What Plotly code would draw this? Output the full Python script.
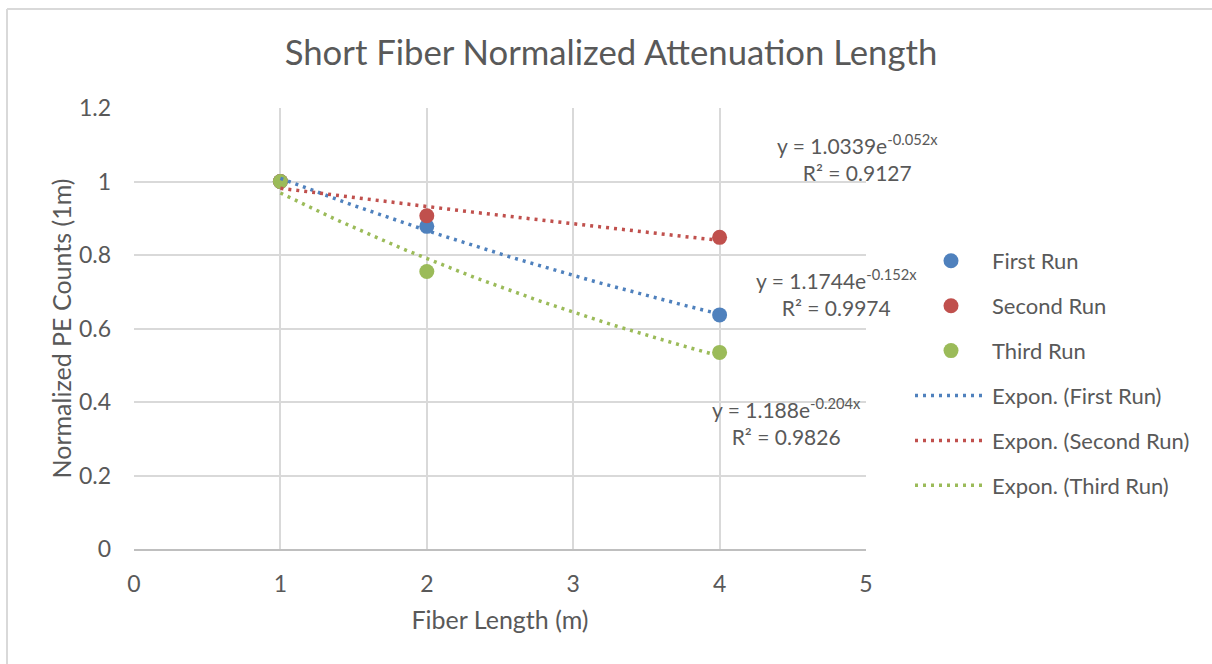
import numpy as np
import plotly.graph_objects as go

# ---- data ----
fiber_length = [1, 2, 4]
first_run = [1.0, 0.878, 0.637]
second_run = [1.0, 0.907, 0.848]
third_run = [1.0, 0.755, 0.535]

series_names = ["First Run", "Second Run", "Third Run"]
series_colors = ["#4F81BD", "#C0504D", "#9BBB59"]

# exponential trendline coefficients displayed on the chart: y = a * e^(b x)
trend_a = [1.1744, 1.0339, 1.188]
trend_b = [-0.152, -0.052, -0.204]
trend_r2 = [0.9974, 0.9127, 0.9826]
trend_a_txt = ["1.1744", "1.0339", "1.188"]
trend_b_txt = ["-0.152", "-0.052", "-0.204"]

FONT = "Lato, 'Open Sans', sans-serif"
TXT = "#595959"

fig = go.Figure()
values = [first_run, second_run, third_run]
for i, (name, col, vals) in enumerate(zip(series_names, series_colors, values)):
    fig.add_trace(go.Scatter(
        x=fiber_length, y=vals, mode="markers", name=name,
        marker=dict(color=col, size=15), legendgroup=f"g{i}", legendrank=i + 1,
    ))

x_fit = np.linspace(min(fiber_length), max(fiber_length), 60)
for i, (name, col) in enumerate(zip(series_names, series_colors)):
    fig.add_trace(go.Scatter(
        x=x_fit, y=trend_a[i] * np.exp(trend_b[i] * x_fit), mode="lines",
        name=f"Expon. ({name})",
        line=dict(color=col, width=3.5, dash="3px,5px"),
        legendgroup=f"t{i}", legendrank=4 + i,
    ))

# equation labels
label_pos = {1: (4.94, 1.064), 0: (4.80, 0.697), 2: (4.46, 0.346)}
for i, (lx, ly) in label_pos.items():
    fig.add_annotation(
        x=lx, y=ly, xref="x", yref="y", showarrow=False,
        text=f"y = {trend_a_txt[i]}e<sup>{trend_b_txt[i]}x</sup><br>R² = {trend_r2[i]}",
        font=dict(family=FONT, size=21, color=TXT), align="center",
    )

# outer chart border (left and top edges visible)
L, R, T, B = 134, 346, 108, 115
W, H = 1212, 664
pw, ph = W - L - R, H - T - B
bx = (7 - L) / pw
by = 1 + (T - 9) / ph
fig.add_shape(type="line", xref="paper", yref="paper",
              x0=bx, x1=bx, y0=-2, y1=by, line=dict(color="#D9D9D9", width=2), layer="below")
fig.add_shape(type="line", xref="paper", yref="paper",
              x0=bx, x1=3, y0=by, y1=by, line=dict(color="#D9D9D9", width=2), layer="below")

fig.update_layout(
    width=W, height=H,
    margin=dict(l=L, r=R, t=T, b=B, autoexpand=False),
    paper_bgcolor="white", plot_bgcolor="white",
    font=dict(family=FONT, color=TXT, size=22),
    title=dict(text="Short Fiber Normalized Attenuation Length",
               x=611 / W, xanchor="center", y=1 - 53 / H, yanchor="middle",
               font=dict(size=34.7, color=TXT, family=FONT)),
    showlegend=True,
    legend=dict(x=(910 - L) / pw, xanchor="left", y=(549 - 240) / ph, yanchor="top",
                font=dict(size=22, color=TXT, family=FONT),
                tracegroupgap=13.3, itemwidth=72, bgcolor="rgba(0,0,0,0)"),
)
fig.update_xaxes(range=[0, 5], dtick=1, tick0=0, showgrid=True, gridcolor="#D9D9D9",
                 gridwidth=1.5, zeroline=False, showline=True, linecolor="#BFBFBF",
                 linewidth=1.5, mirror=False, ticks="", ticklabelstandoff=14,
                 tickfont=dict(size=23),
                 title=dict(text="Fiber Length (m)", font=dict(size=25), standoff=15))
fig.update_yaxes(range=[0, 1.2], dtick=0.2, tick0=0, showgrid=True, gridcolor="#D9D9D9",
                 gridwidth=1.5, zeroline=False, showline=False, ticks="",
                 ticklabelstandoff=22, tickfont=dict(size=23),
                 tickvals=[0, 0.2, 0.4, 0.6, 0.8, 1.0, 1.2],
                 ticktext=["0", "0.2", "0.4", "0.6", "0.8", "1", "1.2"],
                 title=dict(text="Normalized PE Counts (1m)", font=dict(size=25), standoff=0))

fig.write_html("out.html")
